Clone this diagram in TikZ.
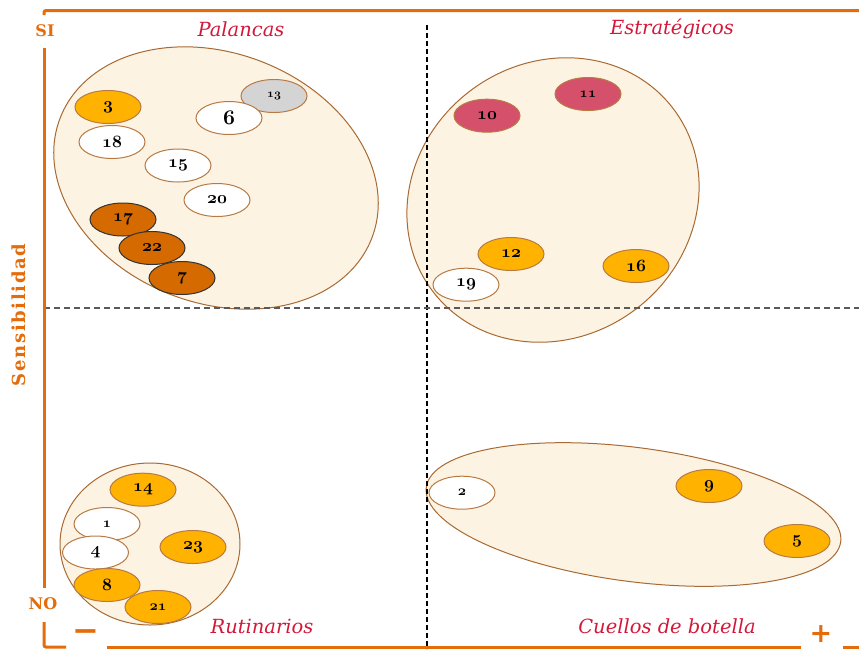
\documentclass[tikz,border=0pt]{standalone}
\usepackage{fontspec}
\usetikzlibrary{shapes.geometric}
\newfontfamily\titlefont{DejaVu Serif}
\newfontfamily\axfont{DejaVu Serif}
\newfontfamily\spacedfont[LetterSpace=9]{DejaVu Serif}
\newfontfamily\symfont{DejaVu Sans}
\definecolor{axisorange}{HTML}{E46C0A}
\definecolor{titlered}{HTML}{D3183A}
\definecolor{cream}{HTML}{FDF3E2}
\definecolor{bigstroke}{HTML}{A86A32}
\definecolor{smallstroke}{HTML}{B87A44}
\definecolor{amber}{HTML}{FFB300}
\definecolor{darkorange}{HTML}{D46A00}
\definecolor{rose}{HTML}{D5506A}
\definecolor{grayfill}{HTML}{D4D4D4}
\newcommand{\osn}[2]{{\fontsize{#1}{#1}\usefont{OML}{cmm}{b}{it}#2}}
\tikzset{
  big/.style={fill=cream, draw=bigstroke, line width=1pt},
  item/.style={ellipse, draw=smallstroke, line width=1pt, minimum width=66pt, minimum height=33pt, inner sep=0pt, text=black},
  wht/.style={item, fill=white},
  amb/.style={item, fill=amber},
  dor/.style={item, fill=darkorange, draw=black!80},
  ros/.style={item, fill=rose},
  gry/.style={item, fill=grayfill},
  axis/.style={draw=axisorange, line width=3pt},
  qtitle/.style={text=titlered, font=\titlefont\itshape\fontsize{19.5}{19.5}\selectfont, inner sep=0pt},
  axlab/.style={text=axisorange, font=\axfont\bfseries\fontsize{16}{16}\selectfont, inner sep=0pt},
  sym/.style={text=axisorange, font=\symfont\bfseries\fontsize{32}{32}\selectfont, inner sep=0pt},
}
\begin{document}
\begin{tikzpicture}[x=1pt,y=-1pt]
\useasboundingbox (0,0) rectangle (859,649);
% group ellipses
\draw[big, rotate around={-21:(216,178)}] (216,178) ellipse [x radius=167, y radius=125];
\draw[big, rotate around={37:(553,200)}] (553,200) ellipse [x radius=151, y radius=137];
\draw[big] (150,544) ellipse [x radius=90, y radius=81];
\draw[big, rotate around={-7.5:(633.5,514.5)}] (633.5,514.5) ellipse [x radius=209, y radius=67];
% quadrant separators
\coordinate (vtop) at (427,25);
\coordinate (vbot) at (427,649);
\coordinate (hl) at (44,308);
\coordinate (hr) at (859,308);
\draw[black, line width=1.2pt, dash pattern=on 5pt off 3pt] (vtop) -- (vbot);
\draw[black!65, line width=1.6pt, dash pattern=on 6pt off 4pt] (hl) -- (hr);
% axes
\coordinate (a1) at (44,15);
\coordinate (a2) at (44,10.5);
\coordinate (a3) at (859,10.5);
\coordinate (l1) at (44,48);
\coordinate (l2) at (44,588);
\coordinate (l3) at (44,622);
\coordinate (l4) at (44,647);
\coordinate (l5) at (66,647);
\coordinate (b1) at (107,647);
\coordinate (b2) at (801,647);
\coordinate (b3) at (843,647);
\coordinate (b4) at (859,647);
\draw[axis, rounded corners=2pt] (a1) -- (a2) -- (a3);
\draw[axis] (l1) -- (l2);
\draw[axis, rounded corners=2pt] (l3) -- (l4) -- (l5);
\draw[axis] (b1) -- (b2);
\draw[axis] (b3) -- (b4);
% items
\node[amb] (n3) at (108,107) {\osn{19}{3}};
\node[gry] (n13) at (274,96) {\osn{13}{13}};
\node[wht] (n6) at (229,118) {\osn{21}{6}};
\node[wht] (n18) at (112,142) {\osn{19}{18}};
\node[wht] (n15) at (178,165.5) {\osn{17}{15}};
\node[wht] (n20) at (217,200) {\osn{16}{20}};
\node[dor] (n17) at (123,219.5) {\osn{16}{17}};
\node[dor] (n22) at (152,248) {\osn{16}{22}};
\node[dor] (n7) at (182,278) {\osn{19}{7}};
\node[ros] (n10) at (487,115.7) {\osn{16}{10}};
\node[ros] (n11) at (588,94) {\osn{15}{11}};
\node[amb] (n12) at (511,254) {\osn{16}{12}};
\node[amb] (n16) at (636,266) {\osn{18}{16}};
\node[wht] (n19) at (466,284.7) {\osn{16}{19}};
\node[amb] (n14) at (143,489.7) {\osn{16}{14}};
\node[wht] (n1) at (107,524) {\osn{14}{1}};
\node[wht] (n4) at (95.5,552.5) {\osn{19}{4}};
\node[amb] (n23) at (193,547) {\osn{17}{23}};
\node[amb] (n8) at (107,585) {\osn{19}{8}};
\node[amb] (n21) at (158,607) {\osn{14}{21}};
\node[wht] (n2) at (462,492.7) {\osn{15}{2}};
\node[amb] (n9) at (709,486) {\osn{18}{9}};
\node[amb] (n5) at (797,541) {\osn{18}{5}};
% titles
\node[qtitle] (tpal) at (241,29) {Palancas};
\node[qtitle] (test) at (672,29) {Estratégicos};
\node[qtitle] (trut) at (262,626) {Rutinarios};
\node[qtitle] (tcue) at (667,626) {Cuellos de botella};
% axis labels
\node[axlab] (si) at (45,30.5) {SI};
\node[axlab] (no) at (43,604) {NO};
\node[axlab, rotate=90, font=\spacedfont\bfseries\fontsize{18}{18}\selectfont] (sens) at (19,315) {Sensibilidad};
\node[sym] (minus) at (86,636) {−};
\node[sym, font=\symfont\bfseries\fontsize{27}{27}\selectfont] (plus) at (821,634) {+};
\end{tikzpicture}
\end{document}
